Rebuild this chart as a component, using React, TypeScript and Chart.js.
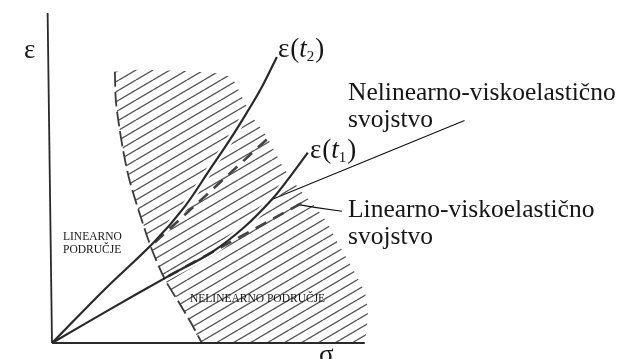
import React, { useEffect, useRef } from "react";
import { Chart, registerables } from "chart.js";

Chart.register(...registerables);

// ---- Data (σ in % of axis length, ε in % of axis length) ----
const axisSigma = [0, 100];
const axisEpsTop = [0, 100];

// ε(t2) curve
const epsT2Sigma = [0, 16.9, 32.9, 42.5, 50.5, 56.9, 62.3, 67.1, 71.9];
const epsT2Eps = [0, 16.3, 30.8, 41.4, 52.6, 61.6, 69.8, 77.6, 86.7];

// ε(t1) curve
const epsT1Sigma = [0, 18.5, 37.1, 51.1, 61.7, 70.3, 75.4, 81.8];
const epsT1Eps = [0, 10.2, 20.2, 27.5, 35.3, 43.5, 49.5, 57.7];

// linear-viscoelastic extensions (dashed)
const linT2Sigma = [32.9, 69.6];
const linT2Eps = [30.5, 62.5];
const linT1Sigma = [37.1, 80.8];
const linT1Eps = [20.2, 42.9];

// left (dashed) boundary of the non-linear region
const boundarySigma = [20.1, 20.4, 21.4, 23.0, 24.9, 28.1, 31.9, 36.1, 40.9, 44.7, 47.9];
const boundaryEps = [82.2, 73.7, 66.2, 57.1, 48.9, 39.0, 28.4, 19.3, 11.8, 5.7, 0];

// outer edge of the hatched region (from the σ axis back to the top of the boundary)
const regionEdgeSigma = [99.0, 100.3, 101, 100, 96.2, 92.0, 87.9, 84.0, 79.2, 73.8, 68.7, 64.2, 60.9, 57.5, 52, 40, 28, 20.1];
const regionEdgeEps = [0, 2.1, 9.4, 15.4, 22.4, 29.3, 36.6, 41.4, 46.5, 53.5, 62.5, 68.3, 74.3, 80.4, 81.8, 82.5, 82.8, 82.2];

// leader lines
const nonlinLeaderSigma = [70.3, 131.9];
const nonlinLeaderEps = [43.5, 67.4];
const linLeaderSigma = [78.3, 84.0, 92.7];
const linLeaderEps = [42.0, 41.1, 39.9];

// texts
const labelEps = "ε";
const labelSigma = "σ";
const labelNonlinProp = ["Nelinearno-viskoelastično", "svojstvo"];
const labelLinProp = ["Linearno-viskoelastično", "svojstvo"];
const labelLinRegion = ["LINEARNO", "PODRUČJE"];
const labelNonlinRegion = "NELINEARNO PODRUČJE";
const curveSubs = ["2", "1"];

const pts = (xs: number[], ys: number[]) => xs.map((x, i) => ({ x, y: ys[i] }));

const FONT = '"Liberation Serif", "Times New Roman", serif';
const f = (size: number, style = "") => `${style} ${size}px ${FONT}`.trim();

function makeHatch(): CanvasPattern | string {
  const w = 17;
  const h = 10;
  const c = document.createElement("canvas");
  c.width = w;
  c.height = h;
  const g = c.getContext("2d");
  if (!g) return "#888";
  g.strokeStyle = "#555555";
  g.lineWidth = 1.3;
  for (let n = -1; n <= 1; n++) {
    g.beginPath();
    g.moveTo(0, h + h * n);
    g.lineTo(w, h * n);
    g.stroke();
  }
  return g.createPattern(c, "repeat") || "#888";
}

function drawEpsT(ctx: CanvasRenderingContext2D, x: number, y: number, sub: string) {
  let cx = x;
  ctx.font = f(27);
  ctx.fillText("ε", cx, y);
  cx += ctx.measureText("ε").width + 1;
  ctx.fillText("(", cx, y);
  cx += ctx.measureText("(").width;
  ctx.font = f(27, "italic");
  ctx.fillText("t", cx, y);
  cx += ctx.measureText("t").width;
  ctx.font = f(15);
  ctx.fillText(sub, cx, y + 4);
  cx += ctx.measureText(sub).width + 1;
  ctx.font = f(27);
  ctx.fillText(")", cx, y);
}

const textPlugin = {
  id: "diagramText",
  afterDraw(chart: any) {
    const ctx: CanvasRenderingContext2D = chart.ctx;
    ctx.save();
    ctx.fillStyle = "#161616";
    ctx.textBaseline = "alphabetic";
    ctx.textAlign = "left";

    ctx.font = f(27);
    ctx.fillText(labelEps, 24, 58);
    ctx.fillText(labelSigma, 319, 363);

    drawEpsT(ctx, 278, 57, curveSubs[0]);
    drawEpsT(ctx, 310, 158, curveSubs[1]);

    ctx.font = f(25.5);
    ctx.fillText(labelNonlinProp[0], 348, 100);
    ctx.fillText(labelNonlinProp[1], 348, 127);
    ctx.fillText(labelLinProp[0], 348, 217);
    ctx.fillText(labelLinProp[1], 348, 244);

    ctx.font = f(11.5);
    ctx.fillText(labelLinRegion[0], 63, 240);
    ctx.fillText(labelLinRegion[1], 63, 253);
    ctx.fillText(labelNonlinRegion, 190, 302);
    ctx.restore();
  },
};

export default function App() {
  const ref = useRef<HTMLCanvasElement | null>(null);

  useEffect(() => {
    if (!ref.current) return;
    const hatch = makeHatch();
    const ink = "#2a2a2a";
    const line = (data: any[], extra: any = {}) => ({
      data,
      showLine: true,
      borderColor: ink,
      borderWidth: 2,
      pointRadius: 0,
      fill: false,
      tension: 0,
      clip: false,
      order: 1,
      ...extra,
    });

    const chart = new Chart(ref.current, {
      type: "scatter",
      data: {
        datasets: [
          // axes
          line(pts([0, 0], [0, axisEpsTop[1]]).map((p, i) => (i === 1 ? { x: -1.4, y: p.y } : p)), { borderWidth: 1.8 }),
          line(pts(axisSigma, [0, 0]), { borderWidth: 1.8 }),
          // curves
          line(pts(epsT2Sigma, epsT2Eps), { tension: 0.35, borderWidth: 2.2 }),
          line(pts(epsT1Sigma, epsT1Eps), { tension: 0.35, borderWidth: 2.2 }),
          // dashed linear extensions
          line(pts(linT2Sigma, linT2Eps), { borderDash: [12, 8], borderWidth: 2.6, borderColor: "#444" }),
          line(pts(linT1Sigma, linT1Eps), { borderDash: [12, 8], borderWidth: 2.6, borderColor: "#444" }),
          // boundary
          line(pts(boundarySigma, boundaryEps), { tension: 0.3, borderDash: [15, 5], borderWidth: 1.8, borderColor: "#3a3a3a" }),
          // leaders
          line(pts(nonlinLeaderSigma, nonlinLeaderEps), { borderWidth: 1.1, borderColor: "#111" }),
          line(pts(linLeaderSigma, linLeaderEps), { borderWidth: 1.1, borderColor: "#111" }),
          // white halos around curves
          line(pts(epsT2Sigma, epsT2Eps), { tension: 0.35, borderWidth: 7, borderColor: "#ffffff", order: 5 }),
          line(pts(epsT1Sigma, epsT1Eps), { tension: 0.35, borderWidth: 7, borderColor: "#ffffff", order: 5 }),
          // hatched non-linear region
          {
            data: pts(boundarySigma.concat(regionEdgeSigma), boundaryEps.concat(regionEdgeEps)),
            showLine: true,
            borderWidth: 0,
            borderColor: "rgba(0,0,0,0)",
            backgroundColor: hatch as any,
            fill: "shape",
            pointRadius: 0,
            tension: 0.15,
            clip: false,
            order: 10,
          },
        ],
      },
      options: {
        animation: false,
        responsive: false,
        devicePixelRatio: 1,
        events: [],
        layout: { padding: { left: 52, right: 264, top: 13, bottom: 16 } },
        scales: {
          x: { type: "linear", min: 0, max: 102, display: false },
          y: { type: "linear", min: 0, max: 100, display: false },
        },
        plugins: {
          legend: { display: false },
          tooltip: { enabled: false },
        },
      } as any,
      plugins: [textPlugin],
    });
    return () => chart.destroy();
  }, []);

  return (
    <div style={{ position: "absolute", left: 0, top: 0, width: 635, height: 359, background: "#fff" }}>
      <canvas ref={ref} width={635} height={359} style={{ display: "block" }} />
    </div>
  );
}
